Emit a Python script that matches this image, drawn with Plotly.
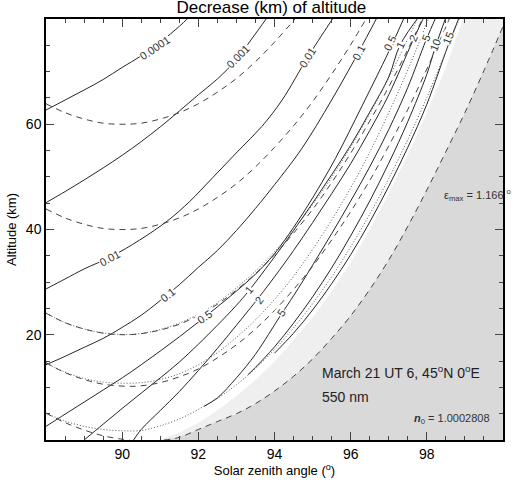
import plotly.graph_objects as go

# solid contours: decrease of altitude (km)
c0001_x = [88, 88.5, 89, 89.5, 90, 90.5, 91, 91.5, 91.75]
c0001_y = [62.7, 64.6, 66.5, 68.5, 70.8, 73.0, 75.6, 78.6, 80.3]
c001_x = [88, 88.5, 89, 89.5, 90, 90.5, 91, 91.5, 92, 92.5, 93, 93.4, 93.8]
c001_y = [45.1, 47.2, 49.4, 51.7, 54.1, 56.7, 59.5, 62.5, 65.6, 68.6, 72.3, 76.2, 80.2]
c01_x = [88, 88.5, 89, 89.7, 90.46, 91.2, 91.77, 92.37, 93.07, 93.67, 94.2, 94.86, 95.25, 95.55]
c01_y = [28.7, 30.6, 32.5, 34.8, 38.0, 41.7, 45.3, 49.8, 55.1, 59.6, 64.6, 72.6, 77.0, 80.3]
c1_x = [88, 88.5, 89, 89.5, 90, 90.5, 91, 91.5, 92, 92.5, 93, 93.5, 94, 94.7, 95.5, 96.2, 96.7]
c1_y = [14.3, 15.9, 17.6, 19.3, 21.4, 23.7, 26.5, 29.5, 32.8, 36.0, 39.8, 44.0, 48.5, 55.2, 64.6, 73.6, 80.4]
c5_x = [88, 88.5, 89, 89.5, 90, 90.5, 91, 91.5, 92, 92.5, 93, 93.5, 94, 94.5, 95, 95.6, 96.3, 97.0, 97.4]
c5_y = [2.6, 4.9, 7.2, 9.5, 11.8, 14.3, 16.9, 19.6, 22.4, 25.3, 28.3, 31.5, 35.4, 40.4, 46.0, 53.5, 63.5, 73.8, 80.2]
k1_x = [89.0, 89.5, 90, 90.5, 91, 91.5, 92, 92.5, 93, 93.33, 94, 94.5, 95, 95.5, 96, 96.5, 97, 97.3, 97.85]
k1_y = [0, 3.0, 6.0, 8.9, 11.8, 14.8, 18.2, 21.8, 25.6, 28.4, 34.8, 39.8, 45.0, 50.4, 56.0, 62.3, 69.0, 75.1, 81.0]
k2_x = [90.3, 90.5, 91, 91.5, 92, 92.5, 93, 93.6, 94, 94.5, 95, 95.5, 96, 96.5, 97, 97.64, 98.0]
k2_y = [0, 2.0, 5.6, 9.2, 13.2, 17.4, 21.8, 27.2, 31.0, 36.0, 41.3, 46.8, 52.5, 58.8, 65.6, 76.0, 81.5]
k5_x = [92.15, 92.5, 93, 93.5, 94.17, 94.5, 95, 95.5, 96, 96.5, 97, 97.5, 97.98, 98.25]
k5_y = [6.4, 8.0, 11.8, 16.3, 23.8, 27.4, 33.2, 39.2, 45.4, 51.9, 59.0, 67.0, 76.0, 80.5]
k10_x = [93.3, 93.5, 94, 94.5, 95, 95.5, 96, 96.5, 97, 97.5, 98, 98.22, 98.5]
k10_y = [12.4, 13.8, 17.7, 22.2, 27.2, 32.7, 38.8, 45.4, 52.6, 60.5, 69.5, 74.6, 80.3]
k15_x = [94.0, 94.5, 95, 95.5, 96, 96.5, 97, 97.5, 98, 98.56, 98.85]
k15_y = [16.5, 20.3, 24.7, 29.7, 35.2, 41.4, 48.2, 55.6, 63.8, 75.0, 80.3]

contours = [
    (c0001_x, c0001_y), (c001_x, c001_y), (c01_x, c01_y), (c1_x, c1_y), (c5_x, c5_y),
    (k1_x, k1_y), (k2_x, k2_y), (k5_x, k5_y), (k10_x, k10_y), (k15_x, k15_y),
]

# ray paths: dashed = geometric, dotted = refracted
r60_x = [88, 88.5, 89, 89.5, 90, 90.5, 91, 91.5, 92, 92.5, 93, 93.5, 94, 94.5, 94.6]
r60_y = [63.9, 62.2, 61.0, 60.2, 60.0, 60.2, 61.0, 62.2, 63.9, 66.1, 68.7, 71.9, 75.6, 79.7, 80.6]
r40_x = [88, 88.5, 89, 89.5, 90, 90.5, 91, 91.5, 92, 92.5, 93, 93.5, 94, 94.5, 95, 95.5, 96, 96.5]
r40_y = [43.9, 42.2, 41.0, 40.2, 40.0, 40.2, 41.0, 42.2, 43.9, 46.1, 48.7, 51.9, 55.6, 59.7, 64.3, 69.5, 75.1, 81.2]
r20_x = [88, 88.5, 89, 89.5, 90.05, 90.5, 91, 91.5, 92, 92.5, 93, 93.5, 94, 94.5, 95, 95.5, 96, 96.5, 97, 97.5, 97.9]
r20_y = [24.1, 22.3, 21.1, 20.3, 20.0, 20.2, 20.9, 22.0, 23.7, 25.8, 28.5, 31.6, 35.2, 39.3, 43.8, 48.9, 54.5, 60.6, 67.1, 74.2, 80.3]
r10_x = [88, 88.5, 89, 89.5, 90.15, 90.5, 91, 91.5, 92, 92.5, 93, 93.5, 94, 94.5, 95, 95.5, 96, 96.5, 97, 97.5, 98, 98.5, 98.6]
r10_y = [14.7, 12.8, 11.5, 10.6, 10.2, 10.3, 10.9, 12.0, 13.5, 15.6, 18.1, 21.1, 24.6, 28.6, 33.0, 38.0, 43.4, 49.3, 55.9, 62.8, 70.5, 78.5, 80.2]
r0_x = [88, 88.5, 89, 89.5, 90, 90.2]
r0_y = [5.1, 3.3, 1.9, 0.8, 0.15, 0]
shadow_x = [91.1, 91.5, 92, 92.5, 93, 93.5, 94, 94.5, 95, 95.5, 96, 96.5, 97, 97.5, 98, 98.5, 99, 99.5, 100]
shadow_y = [0, 0.5, 2.0, 3.5, 5.0, 6.9, 9.3, 12.1, 15.4, 19.3, 23.6, 28.6, 34.2, 40.6, 47.5, 54.8, 62.2, 70.2, 78.6]

d20_x = [88, 88.5, 89, 89.5, 90, 90.5, 91, 91.5, 92, 92.5, 93, 93.5, 94, 94.5, 95, 95.5, 96, 96.5, 97, 97.5, 97.85]
d20_y = [24.1, 22.3, 21.1, 20.35, 20.05, 20.25, 21.0, 22.2, 23.9, 26.1, 28.9, 32.1, 35.8, 40.0, 44.7, 49.9, 55.7, 62.0, 68.8, 76.2, 81.5]
d10_x = [88, 88.5, 89, 89.5, 90, 90.5, 91, 91.5, 92, 92.5, 93, 93.5, 94, 94.5, 95, 95.5, 96, 96.5, 97, 97.5, 98, 98.05]
d10_y = [14.6, 12.9, 11.7, 11.0, 10.8, 10.9, 11.5, 12.6, 14.3, 16.6, 19.5, 22.8, 26.7, 31.1, 36.2, 41.8, 47.9, 54.7, 62.2, 70.3, 79.3, 80.2]
d0_x = [88, 88.5, 89, 89.5, 90, 90.5, 91, 91.5, 92, 92.5, 93, 93.5, 94, 94.5, 95, 95.5, 96, 96.5, 97, 97.5, 98, 98.5, 98.88]
d0_y = [5.1, 3.6, 2.6, 2.0, 1.75, 1.8, 2.7, 4.0, 5.8, 7.9, 10.5, 13.6, 17.2, 21.3, 25.9, 31.0, 36.7, 42.9, 49.7, 57.1, 65.1, 73.8, 80.5]

# edge of the refracted shadow (white / light gray)
lit_x = [90.95, 91.5, 92, 92.5, 93, 93.5, 94, 94.5, 95, 95.5, 96, 96.5, 97, 97.5, 98, 98.5, 98.95]
lit_y = [0, 1.4, 3.3, 5.6, 8.3, 11.4, 14.9, 18.9, 23.3, 28.2, 33.6, 40.0, 46.8, 54.2, 62.2, 70.8, 80]

# contour labels
lab_text = ['0.0001', '0.001', '0.01', '0.1', '0.5', '1', '2', '5', '10', '15',
            '0.01', '0.1', '0.5', '1', '2', '5']
lab_x = [90.85, 93.05, 94.86, 96.2, 97.03, 97.3, 97.64, 97.98, 98.22, 98.56,
         89.68, 91.19, 92.16, 93.33, 93.6, 94.17]
lab_y = [74.5, 73.0, 72.6, 73.6, 75.5, 75.1, 76.4, 76.4, 75.1, 76.4,
         34.6, 27.6, 23.4, 28.5, 26.6, 24.2]
lab_ang = [-34, -46, -58, -62, -64, -66, -67, -67, -68, -68,
           -28, -38, -35, -50, -54, -57]

fig = go.Figure()

fig.add_trace(go.Scatter(x=lit_x + [100, 100], y=lit_y + [80, 0], fill='toself',
                         fillcolor='#efefef', line=dict(width=0), mode='lines', hoverinfo='skip'))
fig.add_trace(go.Scatter(x=shadow_x + [100], y=shadow_y + [0], fill='toself',
                         fillcolor='#d9d9d9', line=dict(width=0), mode='lines', hoverinfo='skip'))

for cx, cy in contours:
    fig.add_trace(go.Scatter(x=cx, y=cy, mode='lines', line=dict(color='#262626', width=1, shape='spline')))

for rx, ry in [(r60_x, r60_y), (r40_x, r40_y), (r20_x, r20_y), (r10_x, r10_y), (r0_x, r0_y), (shadow_x, shadow_y)]:
    fig.add_trace(go.Scatter(x=rx, y=ry, mode='lines',
                             line=dict(color='#444444', width=1, dash='6px,5px', shape='spline')))

for dx, dy in [(d20_x, d20_y), (d10_x, d10_y), (d0_x, d0_y)]:
    fig.add_trace(go.Scatter(x=dx, y=dy, mode='lines',
                             line=dict(color='#555555', width=1, dash='1px,2px', shape='spline')))

for t, x, y, a in zip(lab_text, lab_x, lab_y, lab_ang):
    fig.add_annotation(x=x, y=y, text=t, showarrow=False, textangle=a, bgcolor='white',
                       borderpad=0, font=dict(size=11, color='#333333'))

fig.add_annotation(x=98.4, y=46.6, xanchor='left', text='ε<sub>max</sub> = 1.166 <sup>o</sup>',
                   showarrow=False, font=dict(size=11, color='#333333'))
fig.add_annotation(x=95.19, y=13.0, xanchor='left', text='March 21 UT 6, 45<sup>o</sup>N 0<sup>o</sup>E',
                   showarrow=False, font=dict(size=14, color='#222222'))
fig.add_annotation(x=95.19, y=8.2, xanchor='left', text='550 nm',
                   showarrow=False, font=dict(size=14, color='#222222'))
fig.add_annotation(x=99.7, y=3.9, xanchor='right', text='<b><i>n</i></b><sub>0</sub> = 1.0002808',
                   showarrow=False, font=dict(size=11, color='#333333'))

fig.update_layout(
    width=512, height=483,
    margin=dict(l=46, r=7, t=19, b=43),
    plot_bgcolor='white', paper_bgcolor='white',
    showlegend=False,
    font=dict(family='Liberation Sans, Arial, sans-serif', color='black'),
    title=dict(text='Decrease (km) of altitude', x=0.53, xanchor='center', y=0.985, yanchor='middle',
               font=dict(size=17)),
)
fig.update_xaxes(range=[88, 100], tickvals=[90, 92, 94, 96, 98], ticks='inside', ticklen=8,
                 showline=True, linecolor='black', linewidth=1.5, mirror='ticks', showgrid=False,
                 zeroline=False, tickfont=dict(size=14),
                 minor=dict(tickmode='linear', tick0=88, dtick=0.5, ticks='inside', ticklen=4),
                 title=dict(text='Solar zenith angle (<sup>o</sup>)', font=dict(size=13), standoff=4))
fig.update_yaxes(range=[0, 80], tickvals=[20, 40, 60], ticks='inside', ticklen=8,
                 showline=True, linecolor='black', linewidth=1.5, mirror='ticks', showgrid=False,
                 zeroline=False, tickfont=dict(size=14),
                 minor=dict(tickmode='linear', tick0=0, dtick=5, ticks='inside', ticklen=4),
                 title=dict(text='Altitude (km)', font=dict(size=13), standoff=6))

# the page body has a default 8px margin; drop it so the figure sits at the corner
fig.write_html('out.html', config={'displayModeBar': False},
               post_script="document.body.style.margin='0';")
